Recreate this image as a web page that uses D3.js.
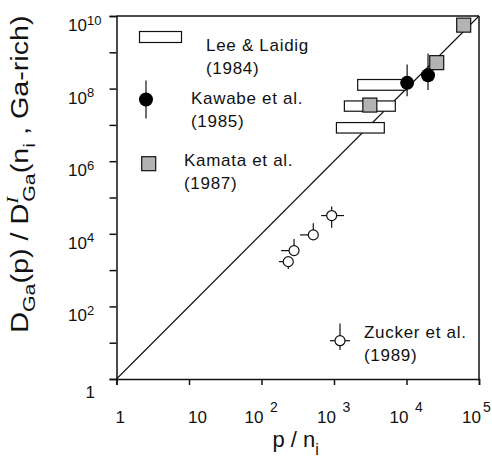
<!DOCTYPE html>
<html>
<head>
<meta charset="utf-8">
<script src="https://cdn.jsdelivr.net/npm/d3@7"></script>
<style>
  body { margin: 0; background: #fff; }
  text { font-family: "Liberation Sans", Arial, sans-serif; fill: #111; }
</style>
</head>
<body>
<div id="chart"></div>
<script>
// data (p/n_i on x, diffusion ratio on y)
var leeLaidig = [
  { xLo: 2120, xHi: 9840, yLo: 9.0e7, yHi: 1.78e8 },
  { xLo: 1390, xHi: 7010, yLo: 2.38e7, yHi: 4.57e7 },
  { xLo: 1080, xHi: 4940, yLo: 5.97e6, yHi: 1.16e7 }
];
var kawabe = [
  { x: 1.02e4, y: 1.44e8, yLo: 6.2e7, yHi: 4.6e8 },
  { x: 1.98e4, y: 2.34e8, yLo: 9.1e7, yHi: 9.3e8 }
];
var kamata = [
  { x: 6.15e4, y: 5.6e9 },
  { x: 2.61e4, y: 5.19e8 },
  { x: 3120, y: 3.52e7 }
];
var zucker = [
  { x: 929, y: 3.18e4, xLo: 665, xHi: 1374, yLo: 1.46e4, yHi: 5.64e4 },
  { x: 518, y: 9330, xLo: 340, xHi: 590, yLo: 7940, yHi: 1.95e4 },
  { x: 281, y: 3440, xLo: 186, xHi: 316, yLo: 2820, yHi: 7230 },
  { x: 234, y: 1710, xLo: 174, xHi: 263, yLo: 1070, yHi: 2000 }
];
var xTickExp = [0, 1, 2, 3, 4, 5];
var yTickExp = [0, 1, 2, 3, 4, 5, 6, 7, 8, 9, 10];
var yLabelExp = [0, 2, 4, 6, 8, 10];

var width = 492,
  height = 468;

var svg = d3.select("#chart").append("svg")
  .attr("width", width)
  .attr("height", height);

var x = d3.scaleLog().domain([1, 1e5]).range([116.5, 479]);
var y = d3.scaleLog().domain([1, 1e10]).range([379, 16]);

var ink = "#111";

// frame: top and right lines
svg.append("line")
  .attr("x1", x(1)).attr("x2", x(1e5))
  .attr("y1", y(1e10)).attr("y2", y(1e10))
  .attr("stroke", ink).attr("stroke-width", 1.5);
svg.append("line")
  .attr("x1", x(1e5)).attr("x2", x(1e5))
  .attr("y1", y(1e10)).attr("y2", y(1))
  .attr("stroke", ink).attr("stroke-width", 1.5);

// bottom axis
var xAxis = d3.axisBottom(x)
  .tickValues(xTickExp.map(function (e) { return Math.pow(10, e); }))
  .tickSize(6)
  .tickFormat("");
svg.append("g")
  .attr("transform", "translate(0," + y(1) + ")")
  .call(xAxis)
  .call(function (g) {
    g.select(".domain").attr("stroke", ink).attr("stroke-width", 1.5);
    g.selectAll(".tick line").attr("stroke", ink).attr("stroke-width", 1.5);
  });

// left axis
var yAxis = d3.axisLeft(y)
  .tickValues(yTickExp.map(function (e) { return Math.pow(10, e); }))
  .tickSize(7)
  .tickFormat("");
svg.append("g")
  .attr("transform", "translate(" + x(1) + ",0)")
  .call(yAxis)
  .call(function (g) {
    g.select(".domain").attr("stroke", ink).attr("stroke-width", 1.5);
    g.selectAll(".tick line").attr("stroke", ink).attr("stroke-width", 1.5);
  });

// x tick labels
xTickExp.forEach(function (e) {
  var px = x(Math.pow(10, e));
  if (e < 2) {
    svg.append("text").attr("x", px - 1).attr("y", 423)
      .attr("font-size", 17).text(e === 0 ? "1" : "10");
  } else {
    svg.append("text").attr("x", px + 2).attr("y", 423)
      .attr("text-anchor", "end").attr("font-size", 17).text("10");
    // keep the last exponent inside the page
    svg.append("text").attr("x", Math.min(px + 8.5, 483)).attr("y", 411.5)
      .attr("font-size", 14).text(e);
  }
});

// y tick labels
yLabelExp.forEach(function (e) {
  var py = y(Math.pow(10, e));
  if (e === 0) {
    svg.append("text").attr("x", 95).attr("y", py + 19)
      .attr("text-anchor", "end").attr("font-size", 17).text("1");
  } else {
    svg.append("text").attr("x", 68).attr("y", py + 15)
      .attr("font-size", 17).text("10");
    svg.append("text").attr("x", 87).attr("y", py + 8.5)
      .attr("font-size", 13).text(e);
  }
});

// y = x^2 line
svg.append("line")
  .attr("x1", x(1)).attr("y1", y(1))
  .attr("x2", x(1e5)).attr("y2", y(1e10))
  .attr("stroke", ink).attr("stroke-width", 1.1);

// Lee & Laidig ranges
svg.append("g").selectAll("rect")
  .data(leeLaidig)
  .enter().append("rect")
  .attr("x", function (d) { return x(d.xLo); })
  .attr("width", function (d) { return x(d.xHi) - x(d.xLo); })
  .attr("y", function (d) { return y(d.yHi); })
  .attr("height", function (d) { return y(d.yLo) - y(d.yHi); })
  .attr("fill", "#fff").attr("stroke", ink).attr("stroke-width", 1.2);

// Kamata squares
var sq = 14;
svg.append("g").selectAll("rect")
  .data(kamata)
  .enter().append("rect")
  .attr("x", function (d) { return x(d.x) - sq / 2; })
  .attr("y", function (d) { return y(d.y) - sq / 2; })
  .attr("width", sq).attr("height", sq)
  .attr("fill", "#b3b3b3").attr("stroke", ink).attr("stroke-width", 1.2);

// Kawabe circles with error bars
var kg = svg.append("g");
kg.selectAll("line")
  .data(kawabe)
  .enter().append("line")
  .attr("x1", function (d) { return x(d.x); })
  .attr("x2", function (d) { return x(d.x); })
  .attr("y1", function (d) { return y(d.yLo); })
  .attr("y2", function (d) { return y(d.yHi); })
  .attr("stroke", ink).attr("stroke-width", 1.2);
kg.selectAll("circle")
  .data(kawabe)
  .enter().append("circle")
  .attr("cx", function (d) { return x(d.x); })
  .attr("cy", function (d) { return y(d.y); })
  .attr("r", 7)
  .attr("fill", "#000");

// Zucker open circles with error bars
var zg = svg.append("g");
zg.selectAll("line.h")
  .data(zucker)
  .enter().append("line").attr("class", "h")
  .attr("x1", function (d) { return x(d.xLo); })
  .attr("x2", function (d) { return x(d.xHi); })
  .attr("y1", function (d) { return y(d.y); })
  .attr("y2", function (d) { return y(d.y); })
  .attr("stroke", ink).attr("stroke-width", 1.2);
zg.selectAll("line.v")
  .data(zucker)
  .enter().append("line").attr("class", "v")
  .attr("x1", function (d) { return x(d.x); })
  .attr("x2", function (d) { return x(d.x); })
  .attr("y1", function (d) { return y(d.yLo); })
  .attr("y2", function (d) { return y(d.yHi); })
  .attr("stroke", ink).attr("stroke-width", 1.2);
zg.selectAll("circle")
  .data(zucker)
  .enter().append("circle")
  .attr("cx", function (d) { return x(d.x); })
  .attr("cy", function (d) { return y(d.y); })
  .attr("r", 5)
  .attr("fill", "#fff").attr("stroke", ink).attr("stroke-width", 1.2);

// legend
var leg = svg.append("g");
leg.append("rect").attr("x", 139.5).attr("y", 31.5).attr("width", 42).attr("height", 11)
  .attr("fill", "#fff").attr("stroke", ink).attr("stroke-width", 1.2);
leg.append("line").attr("x1", 146).attr("x2", 146).attr("y1", 80.5).attr("y2", 118.5)
  .attr("stroke", ink).attr("stroke-width", 1.2);
leg.append("circle").attr("cx", 146).attr("cy", 99.5).attr("r", 7).attr("fill", "#000");
leg.append("rect").attr("x", 141.7).attr("y", 156.7).attr("width", sq).attr("height", sq)
  .attr("fill", "#b3b3b3").attr("stroke", ink).attr("stroke-width", 1.2);
leg.append("line").attr("x1", 330).attr("x2", 350).attr("y1", 340.7).attr("y2", 340.7)
  .attr("stroke", ink).attr("stroke-width", 1.2);
leg.append("line").attr("x1", 340).attr("x2", 340).attr("y1", 323.5).attr("y2", 350)
  .attr("stroke", ink).attr("stroke-width", 1.2);
leg.append("circle").attr("cx", 340).attr("cy", 340.7).attr("r", 5)
  .attr("fill", "#fff").attr("stroke", ink).attr("stroke-width", 1.2);

var legendText = [
  ["Lee & Laidig", "(1984)", 206, 51],
  ["Kawabe et al.", "(1985)", 191, 104],
  ["Kamata et al.", "(1987)", 184, 166],
  ["Zucker et al.", "(1989)", 364, 338]
];
legendText.forEach(function (t) {
  leg.append("text").attr("x", t[2]).attr("y", t[3]).attr("font-size", 17)
    .attr("letter-spacing", 0.7).text(t[0]);
  leg.append("text").attr("x", t[2]).attr("y", t[3] + 23).attr("font-size", 17)
    .attr("letter-spacing", 0.7).text(t[1]);
});

// x axis title
var xt = svg.append("text").attr("x", 272.5).attr("y", 446.5).attr("font-size", 22);
xt.append("tspan").text("p / n");
xt.append("tspan").attr("font-size", 16).attr("dy", 8).text("i");

// y axis title
var yt = svg.append("text")
  .attr("transform", "translate(28,174) rotate(-90) scale(1.25,1)")
  .attr("text-anchor", "middle")
  .attr("font-size", 23);
yt.append("tspan").text("D");
yt.append("tspan").attr("font-size", 17).attr("dy", 7).text("Ga");
yt.append("tspan").attr("dy", -7).text("(p) / D");
yt.append("tspan").attr("font-size", 17).attr("dy", -10)
  .style("font-family", "'Liberation Serif', serif").style("font-style", "italic").text("I");
yt.append("tspan").attr("font-size", 17).attr("dx", -4).attr("dy", 17).text("Ga");
yt.append("tspan").attr("dy", -7).text("(n");
yt.append("tspan").attr("font-size", 17).attr("dy", 7).text("i");
yt.append("tspan").attr("dy", -7).text(" , Ga-rich)");
</script>
</body>
</html>
